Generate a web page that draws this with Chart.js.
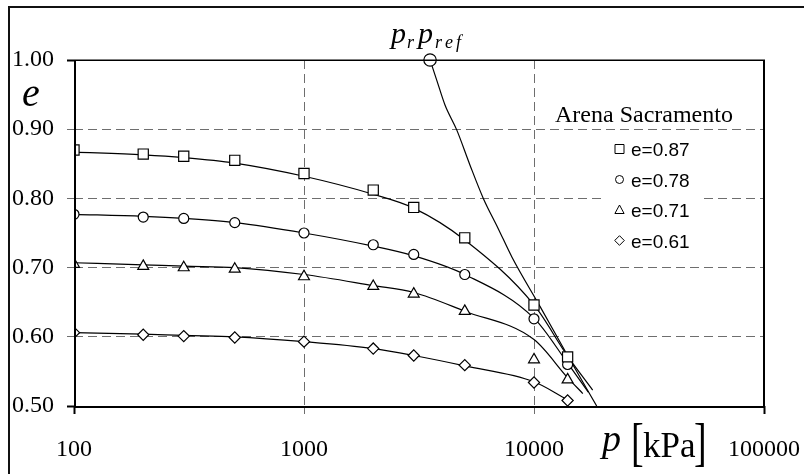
<!DOCTYPE html>
<html><head><meta charset="utf-8">
<script src="https://cdn.jsdelivr.net/npm/chart.js@4.4.1/dist/chart.umd.min.js"></script>
<style>html,body{margin:0;padding:0;background:#fff}#wrap{width:804px;height:474px;position:relative}canvas{display:block}</style>
</head><body><div id="wrap"><canvas id="c" width="804" height="474"></canvas></div>
<script>
// ---- data ----
const xTickValues = [100, 1000, 10000, 100000];
const xTickLabels = ['100', '1000', '10000', '100000'];
const yTickValues = [0.5, 0.6, 0.7, 0.8, 0.9, 1.0];
const yTickLabels = ['0.50', '0.60', '0.70', '0.80', '0.90', '1.00'];

// measured points (p in kPa, void ratio e)
const pressures = [100, 200, 300, 500, 1000, 2000, 3000, 5000, 10000, 14000];
const e087 = [0.870, 0.864, 0.861, 0.855, 0.836, 0.812, 0.787, 0.743, 0.646, 0.571];
const e078 = [0.777, 0.773, 0.771, 0.765, 0.750, 0.733, 0.719, 0.690, 0.626, 0.560];
const e071 = [0.705, 0.702, 0.700, 0.698, 0.687, 0.673, 0.662, 0.637, 0.567, 0.538];
const e061 = [0.606, 0.603, 0.601, 0.599, 0.593, 0.583, 0.573, 0.559, 0.534, 0.508];

// fitted model curves
const fitP087 = [100, 200, 300, 500, 1000, 2000, 3000, 5000, 10000, 14000, 17990];
const fitE087 = [0.867, 0.863, 0.859, 0.851, 0.832, 0.806, 0.786, 0.740, 0.646, 0.572, 0.523];
const fitP078 = [100, 200, 300, 500, 1000, 2000, 3000, 5000, 10000, 14000, 17220];
const fitE078 = [0.777, 0.774, 0.771, 0.765, 0.750, 0.731, 0.717, 0.690, 0.627, 0.562, 0.520];
const fitP071 = [100, 200, 300, 500, 1000, 2000, 3000, 5000, 10000, 14000, 16300];
const fitE071 = [0.707, 0.704, 0.702, 0.700, 0.690, 0.674, 0.664, 0.637, 0.596, 0.541, 0.518];
const fitP061 = [100, 200, 300, 500, 1000, 2000, 3000, 5000, 10000, 14000, 14600];
const fitE061 = [0.606, 0.604, 0.602, 0.600, 0.593, 0.583, 0.573, 0.558, 0.535, 0.509, 0.506];

// reference line from (p_r p_ref, 1.00)
const refP = [3532, 3776, 4102, 4613, 5270, 6021, 6975, 8023, 10617, 14053, 18733];
const refE = [1.000, 0.971, 0.935, 0.899, 0.848, 0.800, 0.757, 0.715, 0.644, 0.572, 0.500];
const prefPoint = [3532, 1.0];

const seriesNames = ['e=0.87', 'e=0.78', 'e=0.71', 'e=0.61'];
const seriesStyles = ['rect', 'circle', 'triangle', 'rectRot'];

const xy = (ps, es) => ps.map((p, i) => ({x: p, y: es[i]}));

const lineDS = (ps, es) => ({
  data: xy(ps, es), showLine: true, pointRadius: 0, borderColor: '#000',
  borderWidth: 1.2, cubicInterpolationMode: 'monotone', fill: false, order: 2
});
const markDS = (es, style, r) => ({
  data: xy(pressures, es), showLine: false, pointStyle: style, pointRadius: r,
  pointBorderColor: '#000', pointBackgroundColor: '#fff', pointBorderWidth: 1.2, order: 1
});

const edgeX = c => c.index === 0 || c.index === xTickValues.length - 1;
const edgeY = c => c.index === 0 || c.index === yTickValues.length - 1;

function tallGlyph(ctx, ch, x, y, size, sy) {
  ctx.save();
  ctx.translate(x, y);
  ctx.scale(1, sy);
  ctx.font = size + 'px "Liberation Serif"';
  ctx.fillText(ch, 0, 0);
  ctx.restore();
}

const decor = {
  id: 'decor',
  beforeDatasetsDraw(chart) {
    const ctx = chart.ctx;
    ctx.save();
    ctx.fillStyle = '#fff';
    ctx.fillRect(604, 136, 99, 118);
    ctx.restore();
  },
  afterDraw(chart) {
    const ctx = chart.ctx, a = chart.chartArea;
    ctx.save();
    // outer frame
    ctx.fillStyle = '#111';
    ctx.fillRect(8, 6, 796, 2);
    ctx.fillRect(8, 6, 2, 468);
    // plot frame
    ctx.fillStyle = '#000';
    ctx.fillRect(a.left, a.top - 0.5, a.right - a.left + 1, 1.5);
    ctx.fillRect(a.left, a.top, 2, a.bottom - a.top + 2);
    ctx.fillRect(a.right - 1, a.top, 2, a.bottom - a.top + 2);
    ctx.fillRect(a.left, a.bottom, a.right - a.left + 1, 2);

    ctx.fillStyle = '#000';
    ctx.textBaseline = 'alphabetic';
    ctx.textAlign = 'left';
    // y title
    ctx.font = 'italic 40px "Liberation Serif"';
    ctx.fillText('e', 22, 106);
    // p_r p_ref label
    ctx.font = 'italic 30px "Liberation Serif"';
    ctx.fillText('p', 391, 43);
    ctx.font = 'italic 18px "Liberation Serif"';
    ctx.fillText('r', 407, 48);
    ctx.font = 'italic 30px "Liberation Serif"';
    ctx.fillText('p', 418, 43);
    ctx.font = 'italic 18px "Liberation Serif"';
    ctx.fillText('r', 435, 48);
    ctx.fillText('e', 445, 48);
    ctx.fillText('f', 456, 48);
    // x title p[kPa]
    ctx.font = 'italic 38px "Liberation Serif"';
    ctx.fillText('p', 602, 451);
    tallGlyph(ctx, '[', 631, 460, 38, 1.38);
    ctx.font = '35px "Liberation Serif"';
    ctx.fillText('kPa', 643, 457);
    tallGlyph(ctx, ']', 694, 460, 38, 1.38);
    // legend
    ctx.font = '24px "Liberation Serif"';
    ctx.fillText('Arena Sacramento', 555, 122);
    ctx.font = '19px "Liberation Sans"';
    const rows = [149, 179.5, 210, 240.5];
    ctx.lineWidth = 1;
    ctx.strokeStyle = '#000';
    rows.forEach((y, i) => {
      const x = 619.5;
      ctx.beginPath();
      const st = seriesStyles[i];
      if (st === 'rect') ctx.rect(x - 4.5, y - 4.5, 9, 9);
      else if (st === 'circle') ctx.arc(x, y, 4, 0, Math.PI * 2);
      else if (st === 'triangle') { ctx.moveTo(x, y - 5); ctx.lineTo(x + 4.6, y + 3.5); ctx.lineTo(x - 4.6, y + 3.5); ctx.closePath(); }
      else { ctx.moveTo(x, y - 4.8); ctx.lineTo(x + 4.8, y); ctx.lineTo(x, y + 4.8); ctx.lineTo(x - 4.8, y); ctx.closePath(); }
      ctx.fillStyle = '#fff'; ctx.fill(); ctx.stroke();
      ctx.fillStyle = '#000';
      ctx.fillText(seriesNames[i], 631, y + 7);
    });
    ctx.restore();
  }
};

new Chart(document.getElementById('c'), {
  type: 'scatter',
  data: {
    datasets: [
      lineDS(fitP087, fitE087),
      lineDS(fitP078, fitE078),
      lineDS(fitP071, fitE071),
      lineDS(fitP061, fitE061),
      lineDS(refP, refE),
      markDS(e087, 'rect', 7.2),
      markDS(e078, 'circle', 5),
      markDS(e071, 'triangle', 6.3),
      markDS(e061, 'rectRot', 5.6),
      { data: [{x: prefPoint[0], y: prefPoint[1]}], pointStyle: 'circle', pointRadius: 6.2,
        pointBorderColor: '#000', pointBackgroundColor: '#fff', pointBorderWidth: 1.2, clip: false, order: 0 }
    ]
  },
  options: {
    responsive: false, animation: false, devicePixelRatio: 1,
    layout: { padding: { top: 60, right: 40, bottom: 0, left: 0 } },
    plugins: { legend: { display: false }, tooltip: { enabled: false } },
    scales: {
      x: {
        type: 'logarithmic', min: 100, max: 100000,
        afterBuildTicks: s => { s.ticks = xTickValues.map(v => ({value: v})); },
        afterFit: s => { s.height = 68; s.paddingLeft = 0; s.paddingRight = 0; },
        ticks: { autoSkip: false, maxRotation: 0, color: '#000', padding: 21,
          font: { family: 'Liberation Serif', size: 24 },
          callback: (v, i) => xTickLabels[i] },
        grid: { color: c => edgeX(c) ? 'rgba(0,0,0,0)' : '#6e6e6e', lineWidth: 1,
          tickColor: c => edgeX(c) ? '#000' : '#6e6e6e', tickLength: 8,
          tickWidth: c => edgeX(c) ? 2 : 1 },
        border: { display: false, dash: [9, 5] }
      },
      y: {
        type: 'linear', min: 0.5, max: 1.0,
        afterBuildTicks: s => { s.ticks = yTickValues.map(v => ({value: v})); },
        afterFit: s => { s.width = 74; s.paddingTop = 0; s.paddingBottom = 0; },
        ticks: { color: '#000', padding: 13,
          font: { family: 'Liberation Serif', size: 24 },
          callback: (v, i) => yTickLabels[i] },
        grid: { color: c => edgeY(c) ? 'rgba(0,0,0,0)' : '#6e6e6e', lineWidth: 1,
          tickColor: c => edgeY(c) ? '#000' : '#6e6e6e', tickLength: 7,
          tickWidth: c => edgeY(c) ? 2 : 1 },
        border: { display: false, dash: [9, 5] }
      }
    }
  },
  plugins: [decor]
});
</script></body></html>
